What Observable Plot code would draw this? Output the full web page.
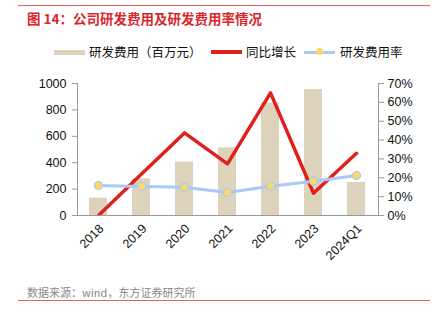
<!DOCTYPE html>
<html><head><meta charset="utf-8">
<script src="https://cdn.jsdelivr.net/npm/d3@7"></script>
<script src="https://cdn.jsdelivr.net/npm/@observablehq/plot@0.6"></script>
<style>
body{margin:0;background:#fff;font-family:"Liberation Sans","Noto Sans CJK SC",sans-serif;}
#wrap{position:relative;width:432px;height:322px;overflow:hidden;}
.rule{position:absolute;left:18px;width:412px;height:1px;background:#e8605a;}
#title{position:absolute;left:27px;top:8px;font-size:13.5px;font-weight:bold;color:#d9262c;font-family:"Noto Sans CJK SC",sans-serif;white-space:nowrap;}
#legend{position:absolute;left:0;top:43px;width:432px;height:18px;font-size:12.5px;color:#111;font-family:"Noto Sans CJK SC",sans-serif;}
#legend span{position:absolute;top:0;line-height:18px;white-space:nowrap;}
#chart{position:absolute;left:0;top:60px;}
#caption{position:absolute;left:27px;top:284px;font-size:11px;color:#888;font-family:"Noto Sans CJK SC",sans-serif;white-space:nowrap;}
</style></head>
<body><div id="wrap">
<div class="rule" style="top:5px"></div>
<div id="title">图 14：公司研发费用及研发费用率情况</div>
<div id="legend"></div>
<div id="chart"></div>
<div id="caption">数据来源：wind，东方证券研究所</div>
<div class="rule" style="top:300px"></div>
</div>
<script>
const categories = ["2018","2019","2020","2021","2022","2023","2024Q1"];
const rdExpense = [131, 278, 404, 513, 851, 955, 250];      // 百万元
const yoyGrowth = [0, 22, 43.8, 27.4, 65, 11.8, 33];         // %
const rdRate = [15.9, 15.4, 15.0, 12.2, 15.5, 18.2, 21.2];   // %
const leftTicks = [0, 200, 400, 600, 800, 1000];
const rightTicks = [0, 10, 20, 30, 40, 50, 60, 70];
const legendLabels = ["研发费用（百万元）", "同比增长", "研发费用率"];

const colors = {bar:"#ddd3bc", red:"#e0211b", blue:"#a9c9f7", dot:"#fcd86a", axis:"#999"};
const rMax = 70, lMax = 1000;
const toLeft = v => v / rMax * lMax;

const rows = categories.map((c,i)=>({cat:c, exp:rdExpense[i], yoy:toLeft(yoyGrowth[i]), rate:toLeft(rdRate[i])}));

// legend
const lg = document.getElementById("legend");
lg.innerHTML = `
<span style="left:54px;top:7px;width:31px;height:5px;background:${colors.bar}"></span>
<span style="left:89px">${legendLabels[0]}</span>
<span style="left:211px;top:7px;width:31px;height:3.5px;background:${colors.red}"></span>
<span style="left:246px">${legendLabels[1]}</span>
<span style="left:304px;top:7.5px;width:31px;height:3px;background:${colors.blue}"></span>
<span style="left:316px;top:5px;width:7px;height:7px;border-radius:50%;background:${colors.dot}"></span>
<span style="left:340px">${legendLabels[2]}</span>`;

const chart = Plot.plot({
  width: 432,
  height: 230,
  marginTop: 23,
  marginBottom: 75,
  marginLeft: 77,
  marginRight: 54,
  style: {fontFamily: "Liberation Sans, Arial, sans-serif", fontSize: "12.5px", color: "#111", background: "transparent"},
  x: {domain: categories, paddingInner: 0.58, paddingOuter: 0.29, label: null},
  y: {domain: [0, lMax], label: null},
  marks: [
    Plot.barY(rows, {x:"cat", y:"exp", fill: colors.bar}),
    Plot.axisY(leftTicks, {anchor:"left", tickSize:5, stroke: colors.axis, tickPadding:6, fontSize:12.5,
      tickFormat: d => String(d)}),
    Plot.axisY(rightTicks.map(toLeft), {anchor:"right", tickSize:5, stroke: colors.axis, tickPadding:4, fontSize:12.5,
      tickFormat: d => Math.round(d*rMax/lMax) + "%"}),
    Plot.axisX({tickSize:0, tickRotate:-45, textAnchor:"end", tickPadding:6, dy:5, dx:3, fontSize:12.5}),
    Plot.frame({anchor:"left", stroke: colors.axis}),
    Plot.frame({anchor:"right", stroke: colors.axis}),
    Plot.frame({anchor:"bottom", stroke: colors.axis}),
    Plot.line(rows, {x:"cat", y:"yoy", stroke: colors.red, strokeWidth:3.5, clip:true}),
    Plot.line(rows, {x:"cat", y:"rate", stroke: colors.blue, strokeWidth:3}),
    Plot.dot(rows, {x:"cat", y:"rate", r:4, fill: colors.dot, stroke: colors.blue, strokeWidth:1.2})
  ]
});
document.getElementById("chart").appendChild(chart);
</script>
</body></html>
